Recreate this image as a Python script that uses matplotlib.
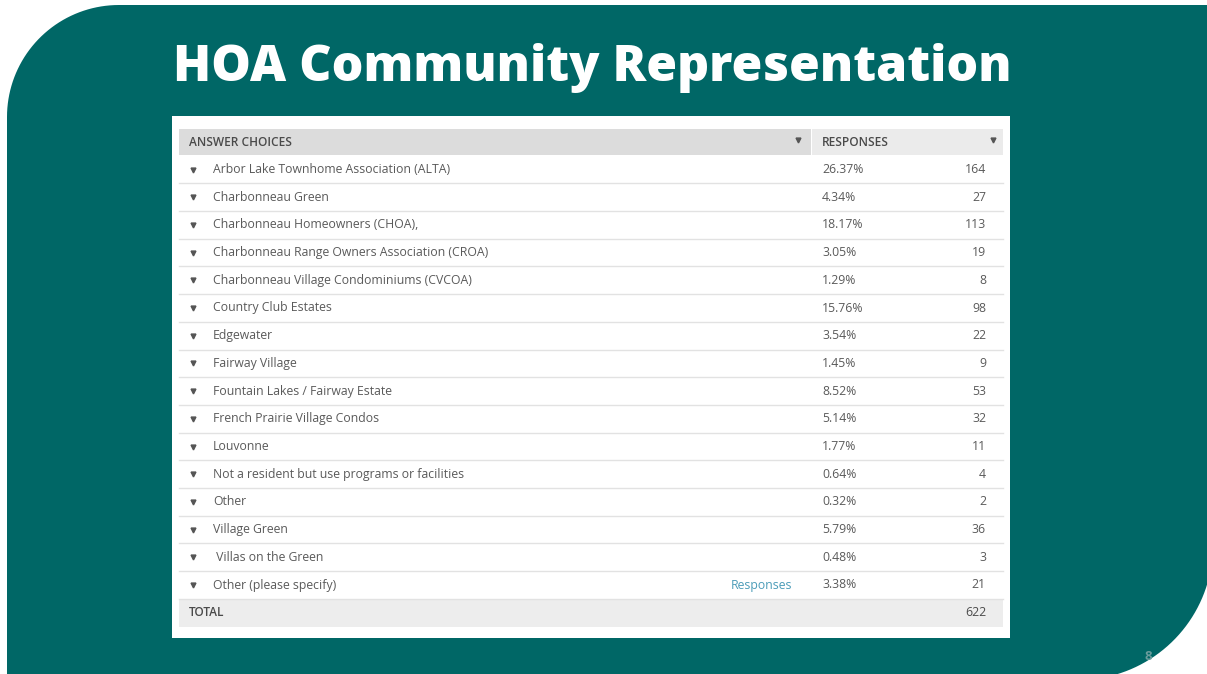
import numpy as np
import matplotlib
matplotlib.use("Agg")
import matplotlib.pyplot as plt
from matplotlib.patches import Rectangle, Polygon

# survey data
choices = [
    "Arbor Lake Townhome Association (ALTA)",
    "Charbonneau Green",
    "Charbonneau Homeowners (CHOA),",
    "Charbonneau Range Owners Association (CROA)",
    "Charbonneau Village Condominiums (CVCOA)",
    "Country Club Estates",
    "Edgewater",
    "Fairway Village",
    "Fountain Lakes / Fairway Estate",
    "French Prairie Village Condos",
    "Louvonne",
    "Not a resident but use programs or facilities",
    "Other",
    "Village Green",
    " Villas on the Green",
    "Other (please specify)",
]
percents = [26.37, 4.34, 18.17, 3.05, 1.29, 15.76, 3.54, 1.45, 8.52, 5.14,
            1.77, 0.64, 0.32, 5.79, 0.48, 3.38]
counts = [164, 27, 113, 19, 8, 98, 22, 9, 53, 32, 11, 4, 2, 36, 3, 21]
total = 622

TEAL = "#006766"
TEXT = "#5a5a5a"

W, H = 1207, 674
fig = plt.figure(figsize=(W / 100, H / 100), dpi=100)
ax = fig.add_axes([0, 0, 1, 1])
ax.set_xlim(0, W)
ax.set_ylim(H, 0)
ax.axis("off")
fig.patch.set_facecolor("white")


def arc(cx, cy, r, a0, a1, n=40):
    t = np.radians(np.linspace(a0, a1, n))
    return np.column_stack([cx + r * np.cos(t), cy + r * np.sin(t)])


# background shape: rounded top-left and bottom-right corners
r1, r2 = 112, 135
pts = [[W + 10, 5], [W + 10, 545]]
pts += list(arc(1078, 545, r2, 0, 90))
pts += [[7, H + 10], [7, 5 + r1]]
pts += list(arc(7 + r1, 5 + r1, r1, 180, 270))
ax.add_patch(Polygon(pts, closed=True, facecolor=TEAL, edgecolor="none"))

ax.text(592, 68, "HOA Community Representation", color="white",
        fontsize=35.9, fontweight="heavy", family=["Open Sans", "DejaVu Sans"],
        ha="center", va="center")

# table card
ax.add_patch(Rectangle((172, 116), 838, 522, facecolor="white", edgecolor="none"))
ax.add_patch(Rectangle((179, 129), 632, 26, facecolor="#dcdcdc", edgecolor="none"))
ax.add_patch(Rectangle((812, 129), 191, 26, facecolor="#ebebeb", edgecolor="none"))
font = ["Open Sans", "DejaVu Sans"]
ax.text(189, 142, "ANSWER CHOICES", color="#4a4a4a", fontsize=8.6,
        fontweight="semibold", family=font, va="center")
ax.text(822, 142, "RESPONSES", color="#4a4a4a", fontsize=8.6,
        fontweight="semibold", family=font, va="center")
ax.plot([798, 993], [140, 140], ls="none", marker="v", ms=3.5, color="#555555")

y0, dy = 169.5, 27.7
for i, (name, p, c) in enumerate(zip(choices, percents, counts)):
    y = y0 + i * dy
    ax.plot(193, y, marker="v", ms=3.5, color="#555555")
    ax.text(213, y, name, color=TEXT, fontsize=8.8, family=font, va="center")
    ax.text(822, y, f"{p:.2f}%", color=TEXT, fontsize=8.8, family=font, va="center")
    ax.text(986, y, str(c), color=TEXT, fontsize=8.8, family=font,
            va="center", ha="right")
    ax.plot([179, 1003], [y + dy / 2, y + dy / 2], color="#e2e2e2", lw=1)

ax.text(792, y0 + 15 * dy, "Responses", color="#4b9cb8", fontsize=8.8,
        family=font, va="center", ha="right")

ty = y0 + 16 * dy
ax.add_patch(Rectangle((179, ty - 13), 824, 27, facecolor="#ededed", edgecolor="none"))
ax.text(189, ty, "TOTAL", color="#4a4a4a", fontsize=8.6, fontweight="semibold",
        family=font, va="center")
ax.text(986, ty, str(total), color="#4a4a4a", fontsize=8.8, family=font,
        va="center", ha="right")

ax.text(1148, 656, "8", color="#6a9c9c", fontsize=9.5, fontweight="bold",
        family=font, va="center", ha="center")

fig.savefig("out.png", dpi=100)
